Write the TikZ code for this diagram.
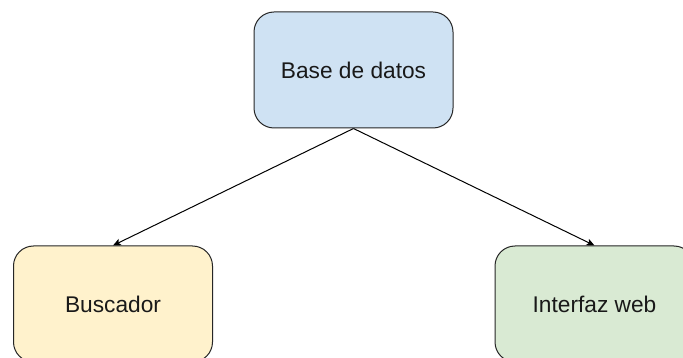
\documentclass[tikz,border=0pt]{standalone}
\usepackage{fontspec}
\setmainfont{Liberation Sans}
\usetikzlibrary{arrows.meta}
\definecolor{dbfill}{HTML}{CFE2F3}
\definecolor{bufill}{HTML}{FFF2CC}
\definecolor{webfill}{HTML}{D9EAD3}
\tikzset{
  box/.style={draw=black!85, line width=1pt, rounded corners=20pt, minimum width=199pt, minimum height=116pt, inner sep=0pt, font=\fontsize{22.7}{27}\selectfont, text=black!90},
  link/.style={line width=1pt, -{Stealth[length=8pt,width=7pt,inset=2pt]}}
}
\begin{document}
\begin{tikzpicture}[x=1pt,y=-1pt]
\useasboundingbox (0,0) rectangle (683,358);
\clip (0,0) rectangle (683,358);
\fill[white] (0,0) rectangle (683,358);
\node[box, fill=dbfill] (db) at (353.5,70) {Base de datos};
\node[box, fill=bufill] (bu) at (113,304) {Buscador};
\node[box, fill=webfill] (web) at (594.5,304) {Interfaz web};
\draw[link] (db.south) -- (bu.north);
\draw[link] (db.south) -- (web.north);
\end{tikzpicture}
\end{document}
